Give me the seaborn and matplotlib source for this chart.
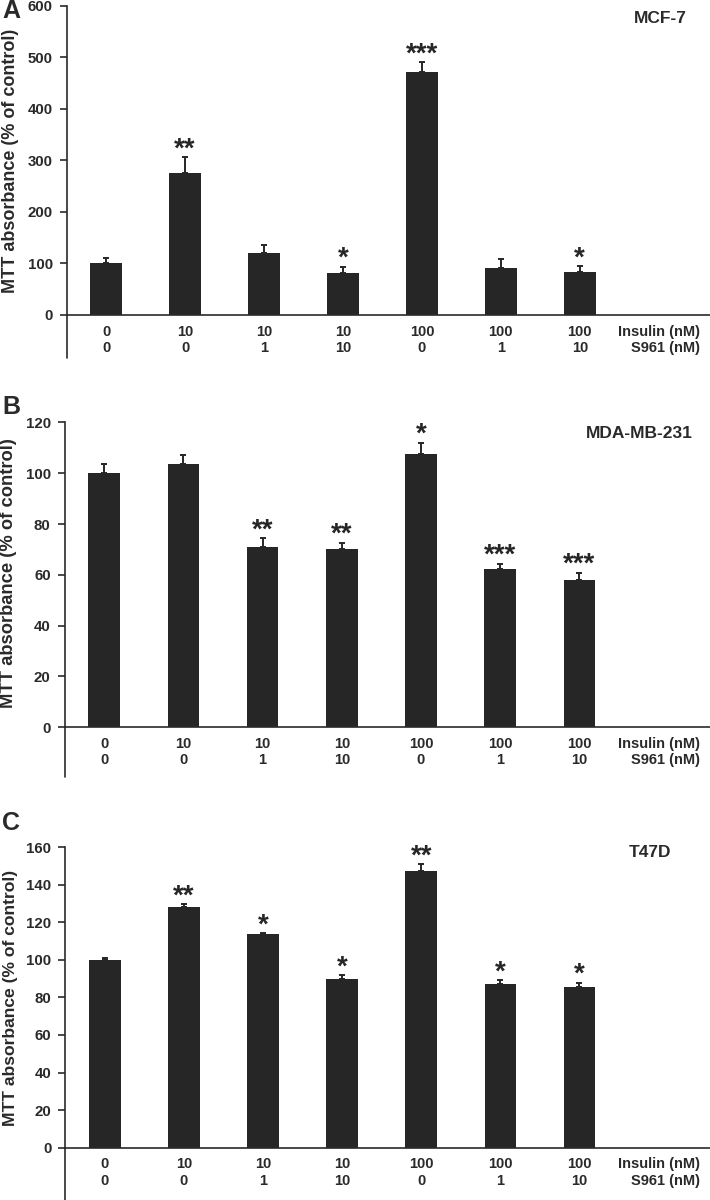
import matplotlib
matplotlib.use("Agg")
import matplotlib.pyplot as plt
import numpy as np
import seaborn as sns

insulin = ['0', '10', '10', '10', '100', '100', '100']
s961 = ['0', '0', '1', '10', '0', '1', '10']
groups = [f"{a}\n{b}" for a, b in zip(insulin, s961)]

mcf7_mean = [100, 276, 120, 82, 472, 91, 84]
mcf7_err = [11, 31, 16, 12, 19, 18, 11]
mcf7_sig = ['', '**', '', '*', '***', '', '*']

mda_mean = [100, 103.5, 71, 70.3, 107.7, 62.2, 57.9]
mda_err = [3.5, 3.5, 3.5, 2.3, 4.3, 2.2, 3.0]
mda_sig = ['', '', '**', '**', '*', '***', '***']

t47d_mean = [100, 128.4, 113.6, 89.7, 147.5, 87, 85.4]
t47d_err = [1.2, 1.4, 0.6, 2.3, 3.5, 2.3, 2.5]
t47d_sig = ['', '**', '*', '*', '**', '*', '*']

sns.set_style("ticks")
plt.rcParams['font.family'] = ['Liberation Sans', 'DejaVu Sans']
plt.rcParams['font.weight'] = 'bold'

BAR = '#262626'
AX = '#2a2a2a'

fig = plt.figure(figsize=(7.1, 12), dpi=100)

panels = [
    # letter, name, mean, err, sig, ymax, step, rect, extension, ylabel size, name pos, letter y
    ('A', 'MCF-7', mcf7_mean, mcf7_err, mcf7_sig, 600, 100,
     [0.094, 0.7375, 0.906, 0.2575], 0.139, 13.0, (0.964, 0.961), 0.991, 0.5),
    ('B', 'MDA-MB-231', mda_mean, mda_err, mda_sig, 120, 20,
     [0.091, 0.394, 0.909, 0.254], 0.164, 13.2, (0.974, 0.964), 0.661, 0.507),
    ('C', 'T47D', t47d_mean, t47d_err, t47d_sig, 160, 20,
     [0.092, 0.0436, 0.908, 0.2504], 0.175, 12.6, (0.94, 0.984), 0.314, 0.497),
]

for letter, name, mean, err, sig, ymax, step, rect, ext, ysize, npos, ly, lyc in panels:
    ax = fig.add_axes(rect)
    sns.barplot(x=groups, y=mean, ax=ax, color=BAR, saturation=1,
                width=0.4, linewidth=0, errorbar=None)
    xs = np.arange(len(mean))
    ax.errorbar(xs, mean, yerr=[np.zeros(len(err)), err], fmt='none',
                ecolor=BAR, elinewidth=1.4, capsize=2.5, capthick=1.4, zorder=3)
    for x, m, e, s in zip(xs, mean, err, sig):
        if s:
            ax.annotate(s, (x, m + e), xytext=(0, 0.5), textcoords='offset points',
                        ha='center', va='baseline', fontsize=20, fontweight='bold',
                        color=BAR)
    ax.set_ylim(0, ymax)
    ax.set_yticks(np.arange(0, ymax + 1, step))
    ax.set_xlim(-0.5, 7.65)
    ax.set_xticks(range(8))
    ax.set_xticklabels(groups + ['Insulin (nM)\nS961 (nM)'])
    ax.get_xticklabels()[-1].set_multialignment('right')
    ax.tick_params(axis='x', length=0, pad=7, labelsize=10.5, colors=AX)
    ax.tick_params(axis='y', length=5, width=1.2, pad=5, labelsize=10.8, colors=AX)
    for lab in ax.get_xticklabels() + ax.get_yticklabels():
        lab.set_fontweight('bold')
    sns.despine(ax=ax)
    for sp in ('left', 'bottom'):
        ax.spines[sp].set_linewidth(1.2)
        ax.spines[sp].set_color(AX)
    ax.plot([0, 0], [0, -ext], transform=ax.transAxes, clip_on=False,
            color=AX, lw=1.2)
    ax.set_ylabel('MTT absorbance (% of control)', fontsize=ysize,
                  fontweight='bold', color=AX)
    ax.yaxis.set_label_coords(-0.074, lyc)
    ax.set_xlabel('')
    ax.text(npos[0], npos[1], name, transform=ax.transAxes, ha='right',
            va='center', fontsize=12.5, fontweight='bold', color=AX)
    fig.text(0.003, ly, letter, ha='left', va='center', fontsize=18,
             fontweight='bold', color=AX)

fig.savefig('out.png', dpi=100)
